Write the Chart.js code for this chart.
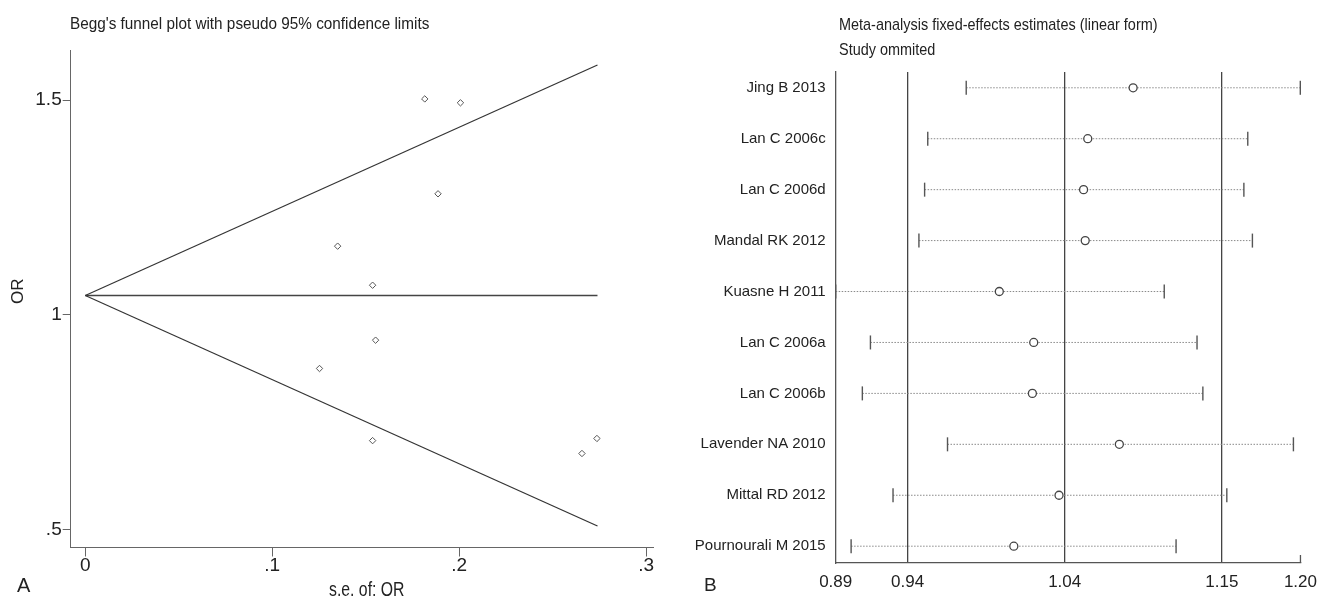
<!DOCTYPE html>
<html>
<head>
<meta charset="utf-8">
<script src="https://cdn.jsdelivr.net/npm/chart.js@4.4.1/dist/chart.umd.min.js"></script>
<style>
body { margin: 0; background: #fff; }
#wrap { position: relative; width: 1328px; height: 599px; overflow: hidden;
  font-family: "Liberation Sans", Arial, sans-serif; color: #222; }
canvas { position: absolute; top: 0; }
#funnel { left: 0; }
#influence { left: 660px; }
.txt { position: absolute; white-space: nowrap; line-height: 1; transform-origin: 0 0; }
</style>
</head>
<body>
<div id="wrap">
<canvas id="funnel" width="660" height="599"></canvas>
<canvas id="influence" width="668" height="599"></canvas>
<div class="txt" style="left:70px;top:15px;font-size:17px;transform:scaleX(0.9)">Begg's funnel plot with pseudo 95% confidence limits</div>
<div class="txt" style="left:839px;top:16px;font-size:17px;transform:scaleX(0.85)">Meta-analysis fixed-effects estimates (linear form)</div>
<div class="txt" style="left:839px;top:41px;font-size:17px;transform:scaleX(0.85)">Study ommited</div>
<div class="txt" style="left:329px;top:579px;font-size:20px;transform:scaleX(0.79)">s.e. of: OR</div>
<div class="txt" style="left:9px;top:304px;font-size:17px;transform:rotate(-90deg)">OR</div>
<div class="txt" style="left:17px;top:575px;font-size:20px">A</div>
<div class="txt" style="left:704px;top:575px;font-size:19px">B</div>
</div>
<script>
// funnel plot (panel A)
var seValues = [0.1816, 0.2007, 0.1887, 0.1350, 0.1537, 0.1553, 0.1253, 0.1537, 0.2657, 0.2737];
var orValues = [1.503, 1.494, 1.282, 1.160, 1.069, 0.941, 0.875, 0.707, 0.677, 0.712];
var limitSe = [0, 0.274];
var upperLimit = [1.045, 1.582];
var lowerLimit = [1.045, 0.508];
var pooledOr = [1.045, 1.045];
var seTicks = [0, 0.1, 0.2, 0.3];
var seTickLabels = ["0", ".1", ".2", ".3"];
var orTicks = [0.5, 1, 1.5];
var orTickLabels = [".5", "1", "1.5"];

// influence analysis (panel B)
var studies = ["Jing B 2013", "Lan C 2006c", "Lan C 2006d", "Mandal RK 2012", "Kuasne H 2011",
	"Lan C 2006a", "Lan C 2006b", "Lavender NA 2010", "Mittal RD 2012", "Pournourali M 2015"];
var estimates = [1.0907, 1.0604, 1.0576, 1.0587, 1.0013, 1.0243, 1.0234, 1.0815, 1.0412, 1.0110];
var lowerCI = [0.9792, 0.9535, 0.9514, 0.9476, 0.8920, 0.9152, 0.9098, 0.9667, 0.9303, 0.9023];
var upperCI = [1.2024, 1.1673, 1.1647, 1.1704, 1.1115, 1.1334, 1.1373, 1.1978, 1.1533, 1.1194];
var estTicks = [0.892, 0.94, 1.045, 1.15, 1.2025];
var estTickLabels = ["0.89", "0.94", "1.04", "1.15", "1.20"];

Chart.defaults.font.family = '"Liberation Sans", Arial, sans-serif';
Chart.defaults.color = "#222";

function toPoints(xs, ys) {
	return xs.map(function (x, i) { return { x: x, y: ys[i] }; });
}

var funnel = document.getElementById("funnel").getContext("2d");
var myChart_funnel = new Chart(funnel, {
	type: "scatter",
	data: {
		datasets: [
			{ type: "line", data: toPoints(limitSe, upperLimit), borderColor: "#333", borderWidth: 1.2, pointRadius: 0 },
			{ type: "line", data: toPoints(limitSe, lowerLimit), borderColor: "#333", borderWidth: 1.2, pointRadius: 0 },
			{ type: "line", data: toPoints(limitSe, pooledOr), borderColor: "#444", borderWidth: 1.6, pointRadius: 0 },
			{
				label: "Studies",
				data: toPoints(seValues, orValues),
				pointStyle: "rectRot",
				pointRadius: 3.2,
				pointBorderWidth: 1,
				pointBorderColor: "#555",
				pointBackgroundColor: "#fff",
			},
		],
	},
	options: {
		responsive: false,
		animation: false,
		layout: { padding: { left: 0, top: 50, right: 7, bottom: 0 } },
		plugins: { legend: { display: false }, tooltip: { enabled: false } },
		scales: {
			x: {
				type: "linear", min: -0.0078, max: 0.3037,
				afterBuildTicks: function (a) { a.ticks = seTicks.map(function (v) { return { value: v }; }); },
				afterFit: function (a) { a.height = 51.5; },
				grid: { drawOnChartArea: false, tickLength: 9, color: "#666" },
				border: { color: "#666" },
				ticks: {
					callback: function (v, i) { return seTickLabels[i]; },
					font: { size: 19, lineHeight: 1 }, padding: 0, maxRotation: 0, autoSkip: false,
				},
			},
			y: {
				type: "linear", min: 0.458, max: 1.617,
				afterBuildTicks: function (a) { a.ticks = orTicks.map(function (v) { return { value: v }; }); },
				afterFit: function (a) { a.width = 70.7; },
				grid: { drawOnChartArea: false, tickLength: 8, color: "#666" },
				border: { color: "#666" },
				ticks: {
					callback: function (v, i) { return orTickLabels[i]; },
					font: { size: 19 }, padding: 1, autoSkip: false,
				},
			},
		},
	},
});

// short inner tick at the end of the B axis
var endTick = {
	id: "endTick",
	afterDraw: function (chart) {
		var sx = chart.scales.x;
		var px = sx.getPixelForValue(sx.max);
		var c = chart.ctx;
		c.save();
		c.strokeStyle = "#555";
		c.lineWidth = 1.3;
		c.beginPath();
		c.moveTo(px, sx.top);
		c.lineTo(px, sx.top - 8);
		c.stroke();
		c.restore();
	},
};

var ciSets = studies.map(function (s, i) {
	return {
		type: "line",
		label: s,
		data: [{ x: lowerCI[i], y: i + 1 }, { x: upperCI[i], y: i + 1 }],
		borderColor: "#8a8a8a",
		borderWidth: 1,
		borderDash: [1.5, 1.5],
		pointStyle: "line",
		pointRotation: 90,
		pointRadius: 7,
		pointBorderWidth: 1.4,
		pointBorderColor: "#555",
		clip: false,
		order: 1,
	};
});

var influence = document.getElementById("influence").getContext("2d");
var myChart_influence = new Chart(influence, {
	type: "scatter",
	data: {
		datasets: ciSets.concat([
			{
				label: "Estimate",
				data: estimates.map(function (v, i) { return { x: v, y: i + 1 }; }),
				pointStyle: "circle",
				pointRadius: 4,
				pointBorderWidth: 1.3,
				pointBorderColor: "#444",
				pointBackgroundColor: "#fff",
				order: 0,
			},
		]),
	},
	options: {
		responsive: false,
		animation: false,
		layout: { padding: { left: 0, top: 72, right: 19.7, bottom: 0 } },
		plugins: { legend: { display: false }, tooltip: { enabled: false } },
		scales: {
			x: {
				type: "linear", min: 0.892, max: 1.2025,
				afterBuildTicks: function (a) { a.ticks = estTicks.map(function (v) { return { value: v }; }); },
				afterFit: function (a) { a.height = 36; },
				grid: {
					drawTicks: false,
					lineWidth: 1.3,
					color: function (ctx) { return (ctx.index === 0 || ctx.index === estTicks.length - 1) ? "rgba(0,0,0,0)" : "#444"; },
				},
				border: { color: "#555", width: 1.3 },
				ticks: {
					callback: function (v, i) { return estTickLabels[i]; },
					font: { size: 17, lineHeight: 1 }, padding: 11, maxRotation: 0, autoSkip: false,
				},
			},
			y: {
				type: "linear", min: 0.69, max: 10.33, reverse: true,
				afterBuildTicks: function (a) { a.ticks = studies.map(function (s, i) { return { value: i + 1 }; }); },
				afterFit: function (a) { a.width = 175.7; },
				grid: { drawOnChartArea: false, drawTicks: false },
				border: { color: "#555", width: 1.3 },
				ticks: {
					callback: function (v, i) { return studies[i]; },
					font: { size: 15 }, padding: 10, autoSkip: false,
				},
			},
		},
	},
	plugins: [endTick],
});
</script>
</body>
</html>
